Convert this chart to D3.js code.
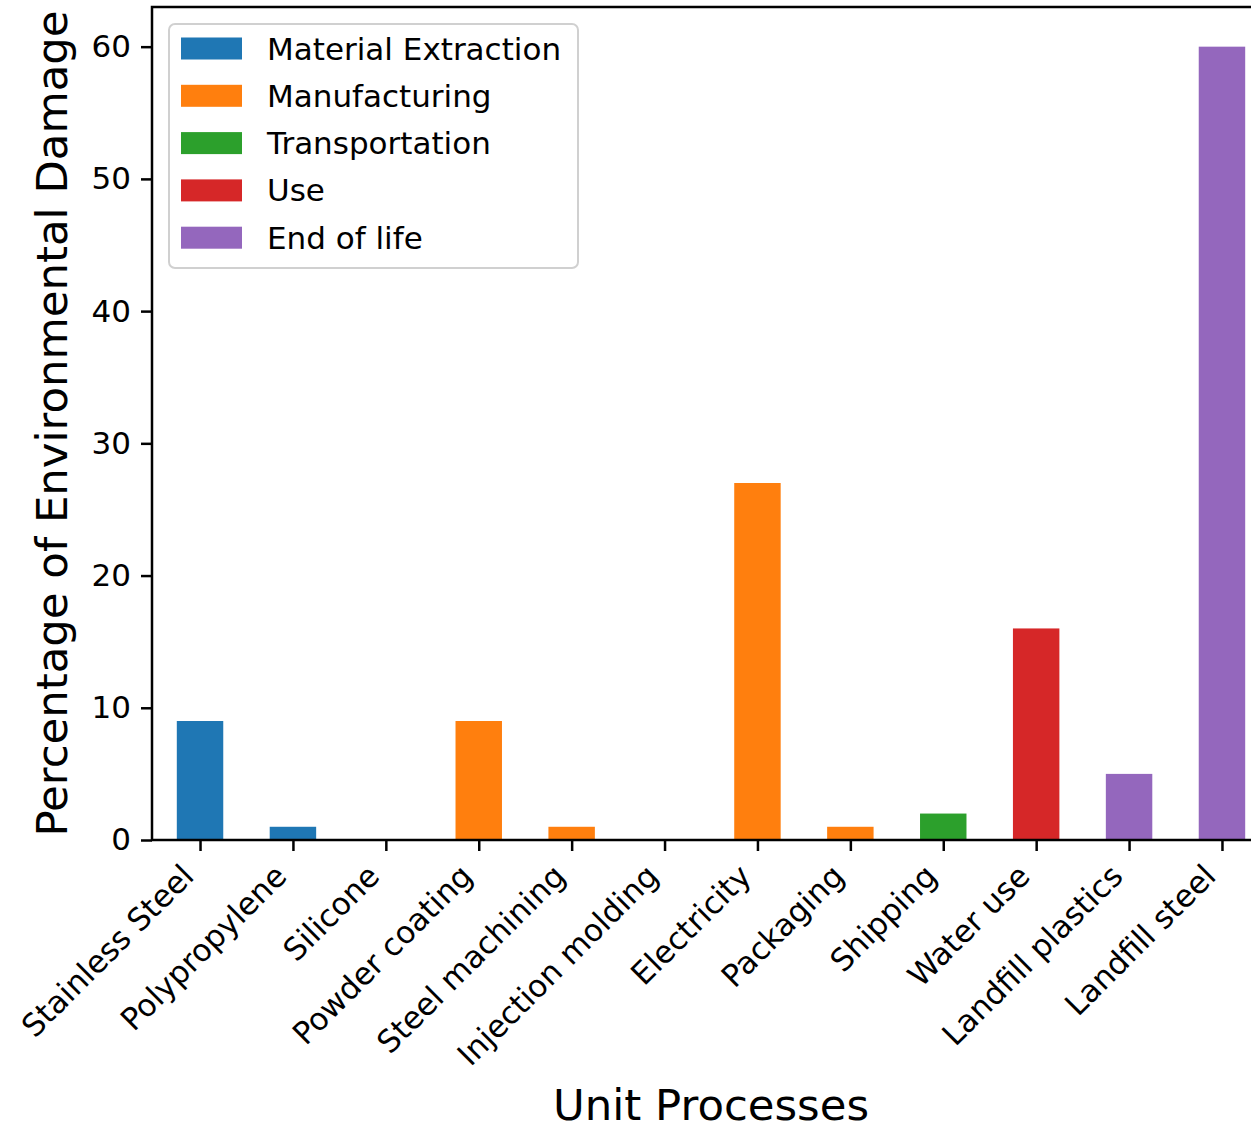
<!DOCTYPE html>
<html>
<head>
<meta charset="utf-8">
<script src="https://cdn.jsdelivr.net/npm/d3@7"></script>
<style>
  html, body { margin: 0; padding: 0; background: #fff; }
  svg { display: block; font-family: "DejaVu Sans", sans-serif; }
</style>
</head>
<body>
<svg id="chart" width="1251" height="1128"></svg>
<script>
const categories = ["Stainless Steel", "Polypropylene", "Silicone", "Powder coating", "Steel machining",
  "Injection molding", "Electricity", "Packaging", "Shipping", "Water use", "Landfill plastics", "Landfill steel"];
const values = [9, 1, 0, 9, 1, 0, 27, 1, 2, 16, 5, 60];
const stageOf = ["Material Extraction", "Material Extraction", "Material Extraction", "Manufacturing", "Manufacturing",
  "Manufacturing", "Manufacturing", "Manufacturing", "Transportation", "Use", "End of life", "End of life"];
const stages = ["Material Extraction", "Manufacturing", "Transportation", "Use", "End of life"];
const stageColors = ["#1f77b4", "#ff7f0e", "#2ca02c", "#d62728", "#9467bd"];
const yTicks = [0, 10, 20, 30, 40, 50, 60];

(function () {
const svg = d3.select("#chart");
const mLeft = 152, mRight = 1270, mTop = 7, mBottom = 840;
const fs = 31;

const x = d3.scaleLinear().domain([-0.517, categories.length - 1 + 0.517]).range([mLeft, mRight]);
const y = d3.scaleLinear().domain([0, 63]).range([mBottom, mTop]);
const color = d3.scaleOrdinal().domain(stages).range(stageColors);
const barW = (x(1) - x(0)) * 0.5;

// bars
svg.append("g").selectAll("rect").data(values).join("rect")
  .attr("x", (d, i) => x(i) - barW / 2)
  .attr("y", d => y(d))
  .attr("width", barW)
  .attr("height", d => y(0) - y(d))
  .attr("fill", (d, i) => color(stageOf[i]));

// y axis
const yAxis = d3.axisLeft(y).tickValues(yTicks).tickSize(11).tickPadding(10).tickFormat(d3.format("d"));
const gy = svg.append("g").attr("transform", `translate(${mLeft},0)`).call(yAxis);
gy.select(".domain").remove();
gy.selectAll(".tick line").attr("stroke", "#000").attr("stroke-width", 2.5);
gy.selectAll(".tick text").attr("font-size", fs).attr("fill", "#000").attr("font-family", "DejaVu Sans");

// x axis
const xAxis = d3.axisBottom(x).tickValues(d3.range(categories.length)).tickSize(11).tickFormat(i => categories[i]);
const gx = svg.append("g").attr("transform", `translate(0,${mBottom})`).call(xAxis);
gx.select(".domain").remove();
gx.selectAll(".tick line").attr("stroke", "#000").attr("stroke-width", 2.5);
gx.selectAll(".tick text")
  .attr("font-size", fs).attr("fill", "#000").attr("font-family", "DejaVu Sans")
  .attr("text-anchor", "end")
  .attr("y", 0).attr("dy", 0)
  .attr("transform", `translate(-5,${878 - mBottom}) rotate(-45)`);

// spines
svg.append("rect").attr("x", mLeft).attr("y", mTop).attr("width", mRight - mLeft).attr("height", mBottom - mTop)
  .attr("fill", "none").attr("stroke", "#000").attr("stroke-width", 2.5);

// axis labels
svg.append("text").attr("x", (mLeft + mRight) / 2).attr("y", 1120).attr("text-anchor", "middle")
  .attr("font-size", 43.4).attr("fill", "#000").text("Unit Processes");
svg.append("text").attr("transform", `translate(67,${(mTop + mBottom) / 2}) rotate(-90)`).attr("text-anchor", "middle")
  .attr("font-size", 43.4).attr("fill", "#000").text("Percentage of Environmental Damage");

// legend
const lg = svg.append("g");
lg.append("rect").attr("x", 169).attr("y", 24).attr("width", 409).attr("height", 244)
  .attr("rx", 6).attr("fill", "#fff").attr("fill-opacity", 0.8).attr("stroke", "#d0d0d0").attr("stroke-width", 2);
const items = lg.selectAll("g.item").data(stages).join("g").attr("class", "item")
  .attr("transform", (d, i) => `translate(0,${37.5 + i * 47.3})`);
items.append("rect").attr("x", 181).attr("y", 0).attr("width", 61).attr("height", 22).attr("fill", d => color(d));
items.append("text").attr("x", 267).attr("y", 22).attr("font-size", fs).attr("fill", "#000").text(d => d);
})();
</script>
</body>
</html>
